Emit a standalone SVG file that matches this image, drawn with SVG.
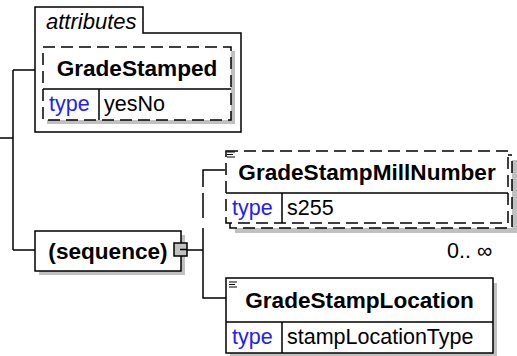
<svg xmlns="http://www.w3.org/2000/svg" width="517" height="356" viewBox="0 0 517 356">
<style>
  .box { fill: #ffffff; stroke: #000000; stroke-width: 1.5; }
  .dash { stroke-dasharray: 12 6; }
  .shadow { fill: #c0c0c0; stroke: none; }
  .line { fill: none; stroke: #000000; stroke-width: 1.5; }
  .name { font-family: "Liberation Sans", Arial, sans-serif; font-weight: bold; font-size: 22.6px; fill: #000000; text-anchor: middle; }
  .lbl { font-family: "Liberation Sans", Arial, sans-serif; font-size: 21.5px; fill: #000000; }
  .key { font-family: "Liberation Sans", Arial, sans-serif; font-size: 21.5px; fill: #2020ff; }
  .ital { font-family: "Liberation Sans", Arial, sans-serif; font-style: italic; font-size: 22px; fill: #000000; }
  .icon { stroke: #000000; stroke-width: 1; }
</style>

<g id="connectors">
  <path class="line" d="M0 138 H13"/>
  <path class="line" d="M13 70 V250"/>
  <path class="line" d="M13 70 H35"/>
  <path class="line" d="M13 250 H35"/>
  <path class="line" d="M187 250 H203"/>
  <path class="line" d="M225 170 H203 V187 M203 193 V218 M203 228 V298 H226"/>
</g>

<g id="attributes">
  <path class="box" d="M35 132 V7 H143 V33 H241 V132 Z"/>
  <text class="ital" x="46" y="29">attributes</text>
</g>

<g id="GradeStamped">
  <rect class="shadow" x="47" y="51" width="188" height="73"/>
  <rect class="box dash" x="43" y="47" width="188" height="73"/>
  <path class="line" d="M43 89 H231 M99 89 V120"/>
  <text class="name" x="137" y="76">GradeStamped</text>
  <text class="key" x="49" y="111">type</text>
  <text class="lbl" x="104" y="111">yesNo</text>
</g>

<g id="sequence">
  <rect class="shadow" x="39" y="235" width="146" height="40"/>
  <rect class="box" x="35" y="231" width="146" height="40"/>
  <text class="name" x="108" y="259">(sequence)</text>
  <rect x="174" y="243" width="13" height="13" fill="#c0c0c0" stroke="#000000" stroke-width="1.5"/>
  <path class="line" d="M180 249.5 H187"/>
</g>

<g id="GradeStampMillNumber">
  <rect class="shadow" x="235" y="160" width="282" height="73"/>
  <rect class="box dash" x="230" y="155" width="282" height="73"/>
  <rect class="box dash" x="226" y="151" width="282" height="72"/>
  <path class="line" d="M226 193 H508 M282 193 V223"/>
  <path class="icon" d="M227 152 H235 M227 154.5 H233 M227 157 H235"/>
  <text class="name" x="367" y="180">GradeStampMillNumber</text>
  <text class="key" x="232" y="215">type</text>
  <text class="lbl" x="287" y="215">s255</text>
  <text class="lbl" x="447" y="258">0.. ∞</text>
</g>

<g id="GradeStampLocation">
  <rect class="shadow" x="230" y="283" width="267" height="74"/>
  <rect class="box" x="226" y="278" width="267" height="75"/>
  <path class="line" d="M226 322 H493 M282 322 V353"/>
  <path class="icon" d="M229 282 H237 M229 284.5 H235 M229 287 H237"/>
  <text class="name" x="359.5" y="308">GradeStampLocation</text>
  <text class="key" x="232" y="344">type</text>
  <text class="lbl" x="287" y="344">stampLocationType</text>
</g>
</svg>
